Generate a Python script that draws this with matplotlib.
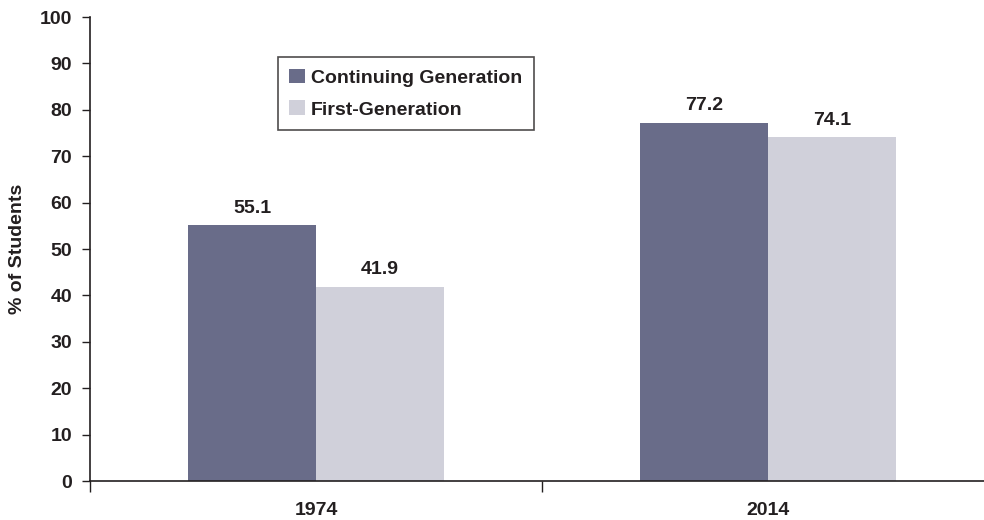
import numpy as np
import matplotlib
matplotlib.use("Agg")
from matplotlib import pyplot as plt

years = ["1974", "2014"]
continuing = [55.1, 77.2]
first_gen = [41.9, 74.1]
series_names = ["Continuing Generation", "First-Generation"]

dark = "#696c89"
light = "#d0d0da"
ink = "#231f20"
fs = 14

plt.rcParams["font.family"] = ["Liberation Sans", "DejaVu Sans"]
plt.rcParams["font.weight"] = "bold"

fig = plt.figure(figsize=(9.84, 5.2), dpi=100)
ax = fig.add_axes([90 / 984, 39 / 520, 894 / 984, 464 / 520])

x = np.arange(len(years))
w = 0.283
b1 = ax.bar(x - w / 2, continuing, w, color=dark, label=series_names[0])
b2 = ax.bar(x + w / 2, first_gen, w, color=light, label=series_names[1])

for bars in (b1, b2):
    for r in bars:
        ax.annotate(f"{r.get_height():.1f}", (r.get_x() + r.get_width() / 2, r.get_height()),
                    xytext=(0, 6), textcoords="offset points", ha="center", va="bottom",
                    fontsize=fs, fontweight="bold", color=ink)

ax.set_xlim(-0.5, 1.478)
ax.set_ylim(0, 100)
ax.set_yticks(range(0, 101, 10))
ax.tick_params(axis="y", labelsize=fs, length=6, width=1, colors=ink, pad=7)

ax.set_xticks([-0.5, 0.5])
ax.set_xticklabels(["", ""])
ax.set_xticks(x, minor=True)
ax.set_xticklabels(years, minor=True)
ax.tick_params(axis="x", which="major", length=8, width=1, color=ink)
ax.tick_params(axis="x", which="minor", length=0, labelsize=fs, colors=ink, pad=15)

for s in ("top", "right"):
    ax.spines[s].set_visible(False)
for s in ("left", "bottom"):
    ax.spines[s].set_color(ink)
    ax.spines[s].set_linewidth(1.2)

ax.set_ylabel("% of Students", fontsize=fs, fontweight="bold", color=ink, labelpad=10)

leg = ax.legend(loc="upper left", bbox_to_anchor=(0.21, 0.914), borderaxespad=0,
                fontsize=fs, frameon=True, fancybox=False, edgecolor=ink,
                handlelength=0.8, handleheight=0.8, handletextpad=0.3,
                borderpad=0.6, labelspacing=0.7)
leg.get_frame().set_linewidth(1.2)
for t in leg.get_texts():
    t.set_color(ink)

fig.savefig("out.png", dpi=100)
